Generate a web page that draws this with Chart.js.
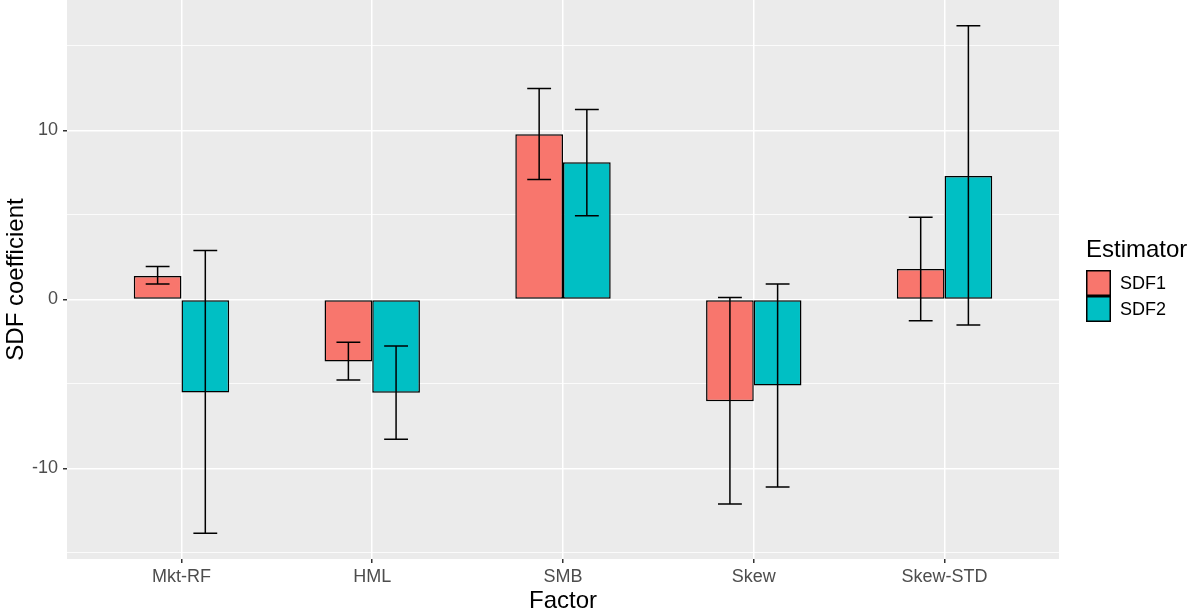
<!DOCTYPE html>
<html>
<head>
<meta charset="utf-8">
<script src="https://cdn.jsdelivr.net/npm/chart.js@4/dist/chart.umd.min.js"></script>
<style>
  html, body { margin: 0; padding: 0; background: #ffffff; }
  #wrap { width: 1191px; height: 611px; position: relative; }
</style>
</head>
<body>
<div id="wrap"><canvas id="chart" width="1191" height="611"></canvas></div>
<script>
// Factor categories and SDF coefficient estimates with their interval bounds
const factors = ['Mkt-RF', 'HML', 'SMB', 'Skew', 'Skew-STD'];
const seriesNames = ['SDF1', 'SDF2'];

const sdf1Coef  = [1.38, -3.67, 9.78, -6.03, 1.80];
const sdf1Lower = [0.91, -4.77, 7.10, -12.10, -1.26];
const sdf1Upper = [1.95, -2.54, 12.48, 0.12, 4.87];

const sdf2Coef  = [-5.50, -5.52, 8.12, -5.09, 7.30];
const sdf2Lower = [-13.83, -8.28, 4.95, -11.10, -1.51];
const sdf2Upper = [2.90, -2.76, 11.24, 0.92, 16.19];

const yTickValues = [-15, -10, -5, 0, 5, 10, 15];
const yTickLabels = { '-10': '-10', '0': '0', '10': '10' };

const fillColors = ['#F8766D', '#00BFC4'];
const FONT = "'Liberation Sans', Arial, sans-serif";

const intervals = [
  { lower: sdf1Lower, upper: sdf1Upper },
  { lower: sdf2Lower, upper: sdf2Upper }
];

// grey plotting panel behind the grid
const panelBackground = {
  id: 'panelBackground',
  beforeDraw(chart) {
    const { ctx, chartArea: a } = chart;
    ctx.save();
    ctx.fillStyle = '#EBEBEB';
    ctx.fillRect(a.left, a.top, a.right - a.left, a.bottom - a.top);
    ctx.restore();
  }
};

// vertical interval whiskers with caps on every bar
const errorBars = {
  id: 'errorBars',
  afterDatasetsDraw(chart) {
    const { ctx } = chart;
    const yScale = chart.scales.y;
    ctx.save();
    ctx.strokeStyle = '#000000';
    ctx.lineWidth = 1.5;
    chart.data.datasets.forEach((ds, di) => {
      const meta = chart.getDatasetMeta(di);
      meta.data.forEach((bar, i) => {
        const x = bar.x;
        const half = bar.width / 4;
        const yLo = yScale.getPixelForValue(intervals[di].lower[i]);
        const yHi = yScale.getPixelForValue(intervals[di].upper[i]);
        ctx.beginPath();
        ctx.moveTo(x, yLo); ctx.lineTo(x, yHi);
        ctx.moveTo(x - half, yLo); ctx.lineTo(x + half, yLo);
        ctx.moveTo(x - half, yHi); ctx.lineTo(x + half, yHi);
        ctx.stroke();
      });
    });
    ctx.restore();
  }
};

// legend on the right: title with stacked fill keys
const sideLegend = {
  id: 'sideLegend',
  afterDraw(chart) {
    const { ctx } = chart;
    const x0 = 1086, keyW = 25, keyH = 26, top = 270;
    ctx.save();
    ctx.fillStyle = '#000000';
    ctx.font = '24px ' + FONT;
    ctx.textAlign = 'left';
    ctx.textBaseline = 'alphabetic';
    ctx.fillText('Estimator', x0, 257);
    chart.data.datasets.forEach((ds, i) => {
      const y = top + i * keyH;
      ctx.fillStyle = ds.backgroundColor;
      ctx.fillRect(x0, y, keyW, keyH);
      ctx.strokeStyle = '#000000';
      ctx.lineWidth = 1.5;
      ctx.strokeRect(x0 + 0.75, y + 0.75, keyW - 1.5, keyH - 1.5);
      ctx.fillStyle = '#000000';
      ctx.font = '18px ' + FONT;
      ctx.textBaseline = 'middle';
      ctx.fillText(ds.label, x0 + 34, y + keyH / 2 + 1);
    });
    ctx.restore();
  }
};

const toPoints = vals => vals.map((v, i) => ({ x: i + 1, y: v }));

new Chart(document.getElementById('chart'), {
  type: 'bar',
  data: {
    datasets: [
      { label: seriesNames[0], data: toPoints(sdf1Coef), backgroundColor: fillColors[0] },
      { label: seriesNames[1], data: toPoints(sdf2Coef), backgroundColor: fillColors[1] }
    ]
  },
  options: {
    responsive: false,
    animation: false,
    devicePixelRatio: 1,
    layout: { padding: { left: 0, right: 132, top: 0, bottom: 0 } },
    datasets: {
      bar: {
        categoryPercentage: 0.5,
        barPercentage: 1.0,
        borderColor: '#000000',
        borderWidth: 1.5,
        borderSkipped: false
      }
    },
    plugins: {
      legend: { display: false },
      tooltip: { enabled: false }
    },
    scales: {
      x: {
        type: 'linear',
        offset: false,
        min: 0.4,
        max: 5.6,
        afterBuildTicks(scale) {
          scale.ticks = factors.map((f, i) => ({ value: i + 1 }));
        },
        afterFit(scale) {
          scale.height = 52;
          scale.paddingLeft = 0;
          scale.paddingRight = 0;
        },
        grid: {
          offset: false,
          color: '#FFFFFF',
          lineWidth: 1.5,
          drawTicks: true,
          tickLength: 4,
          tickColor: '#333333',
          tickWidth: 1.5
        },
        border: { display: false },
        ticks: {
          autoSkip: false,
          maxRotation: 0,
          padding: 3,
          color: '#4D4D4D',
          font: { family: FONT, size: 18 },
          callback: v => factors[Math.round(v) - 1]
        },
        title: {
          display: true,
          text: 'Factor',
          color: '#000000',
          font: { family: FONT, size: 24, lineHeight: 0.8 },
          padding: 0
        }
      },
      y: {
        type: 'linear',
        min: -15.36,
        max: 17.72,
        afterBuildTicks(scale) {
          scale.ticks = yTickValues.map(v => ({ value: v }));
        },
        afterFit(scale) {
          scale.width = 67;
          scale.paddingTop = 0;
          scale.paddingBottom = 0;
        },
        grid: {
          color: '#FFFFFF',
          lineWidth: c => (c.tick && c.tick.value % 10 === 0) ? 1.5 : 0.8,
          drawTicks: true,
          tickLength: 4,
          tickColor: c => (c.tick && c.tick.value % 10 === 0) ? '#333333' : 'rgba(0,0,0,0)',
          tickWidth: 1.5
        },
        border: { display: false },
        ticks: {
          padding: 5,
          color: '#4D4D4D',
          font: { family: FONT, size: 18 },
          callback: v => yTickLabels[String(v)] || ''
        },
        title: {
          display: true,
          text: 'SDF coefficient',
          color: '#000000',
          font: { family: FONT, size: 24, lineHeight: 1 },
          padding: { top: 4.5, bottom: 0 }
        }
      }
    }
  },
  plugins: [panelBackground, errorBars, sideLegend]
});
</script>
</body>
</html>
